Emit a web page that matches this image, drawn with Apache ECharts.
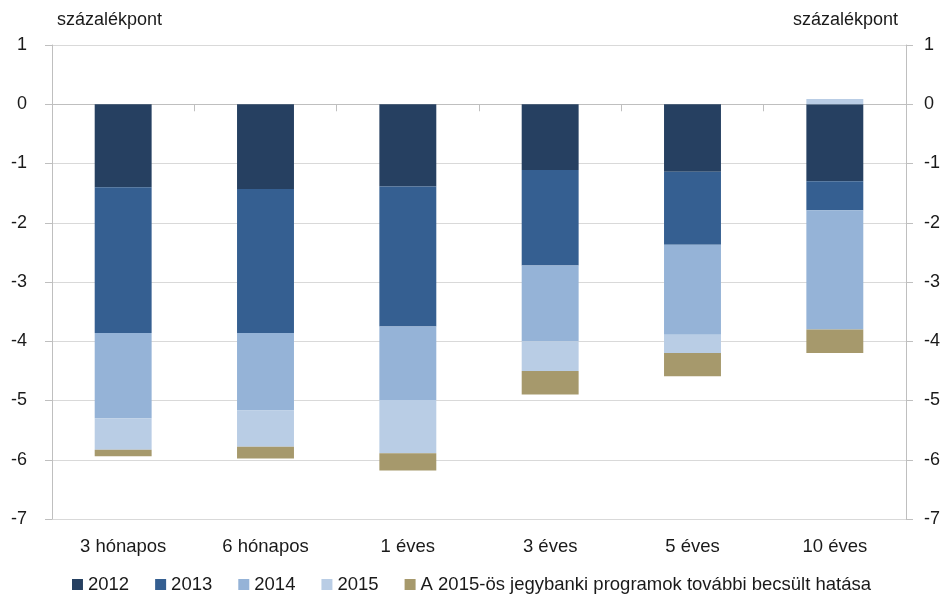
<!DOCTYPE html>
<html>
<head>
<meta charset="utf-8">
<script src="https://cdn.jsdelivr.net/npm/echarts@6/dist/echarts.min.js"></script>
<style>
  html, body { margin: 0; padding: 0; background: #fff; }
  #chart { width: 943px; height: 603px; }
</style>
</head>
<body>
<div id="chart"></div>
<script>
const categories = ['3 hónapos', '6 hónapos', '1 éves', '3 éves', '5 éves', '10 éves'];
const yTicks = [-7, -6, -5, -4, -3, -2, -1, 0, 1];
const s2012 = [-1.40, -1.43, -1.39, -1.11, -1.14, -1.30];
const s2013 = [-2.46, -2.43, -2.36, -1.61, -1.23, -0.49];
const s2014 = [-1.44, -1.31, -1.24, -1.28, -1.52, -2.01];
const s2015 = [-0.53, -0.61, -0.90, -0.50, -0.31, 0.09];
const sProgram = [-0.11, -0.20, -0.29, -0.40, -0.39, -0.40];

const seriesNames = ['2012', '2013', '2014', '2015', 'A 2015-ös jegybanki programok további becsült hatása'];
const seriesColors = ['#264061', '#355F91', '#95B3D7', '#B9CDE5', '#A6996C'];
const seriesData = [s2012, s2013, s2014, s2015, sProgram];

const font = '"Liberation Sans", sans-serif';
const textColor = '#1a1a1a';
const axisColor = '#BFBFBF';
const gridColor = '#D9D9D9';

let chart = echarts.init(document.getElementById('chart'));

let series = [];
for (let i = 0; i < seriesData.length; i++) {
  series.push({
    name: seriesNames[i],
    type: 'bar',
    stack: 'total',
    xAxisIndex: 0,
    yAxisIndex: 0,
    barWidth: '40%',
    itemStyle: { color: seriesColors[i] },
    data: seriesData[i]
  });
}

let option = {
  animation: false,
  textStyle: { fontFamily: font },
  grid: { left: 52, right: 29, top: 45, bottom: 84 },
  graphic: [
    { type: 'text', left: 57, top: 11, style: { text: 'százalékpont', fontSize: 18, fontFamily: font, fill: textColor } },
    { type: 'text', right: 45, top: 11, style: { text: 'százalékpont', fontSize: 18, fontFamily: font, fill: textColor } }
  ],
  legend: {
    data: seriesNames,
    bottom: 4,
    left: 'center',
    itemWidth: 11,
    itemHeight: 11,
    itemGap: 26,
    icon: 'rect',
    textStyle: { fontSize: 18.5, color: textColor, fontFamily: font }
  },
  xAxis: [
    {
      type: 'category',
      data: categories,
      position: 'bottom',
      axisLine: { show: true, onZero: true, lineStyle: { color: axisColor } },
      axisTick: { show: true, alignWithLabel: false, length: 7, lineStyle: { color: axisColor } },
      axisLabel: { show: false }
    },
    {
      type: 'category',
      data: categories,
      position: 'bottom',
      axisLine: { show: false, onZero: false },
      axisTick: { show: false },
      axisLabel: { margin: 18, fontSize: 18.5, color: textColor, fontFamily: font }
    }
  ],
  yAxis: [
    {
      type: 'value',
      position: 'left',
      min: yTicks[0],
      max: yTicks[yTicks.length - 1],
      interval: 1,
      axisLine: { show: true, lineStyle: { color: axisColor } },
      axisTick: { show: true, length: 7, lineStyle: { color: axisColor } },
      axisLabel: { margin: 25, fontSize: 18, color: textColor, fontFamily: font },
      splitLine: { show: true, lineStyle: { color: gridColor, width: 1 } }
    },
    {
      type: 'value',
      position: 'right',
      min: yTicks[0],
      max: yTicks[yTicks.length - 1],
      interval: 1,
      axisLine: { show: true, lineStyle: { color: axisColor } },
      axisTick: { show: true, length: 7, lineStyle: { color: axisColor } },
      axisLabel: { margin: 18, fontSize: 18, color: textColor, fontFamily: font, align: 'left' },
      splitLine: { show: false }
    }
  ],
  series: series
};

chart.setOption(option);
</script>
</body>
</html>
